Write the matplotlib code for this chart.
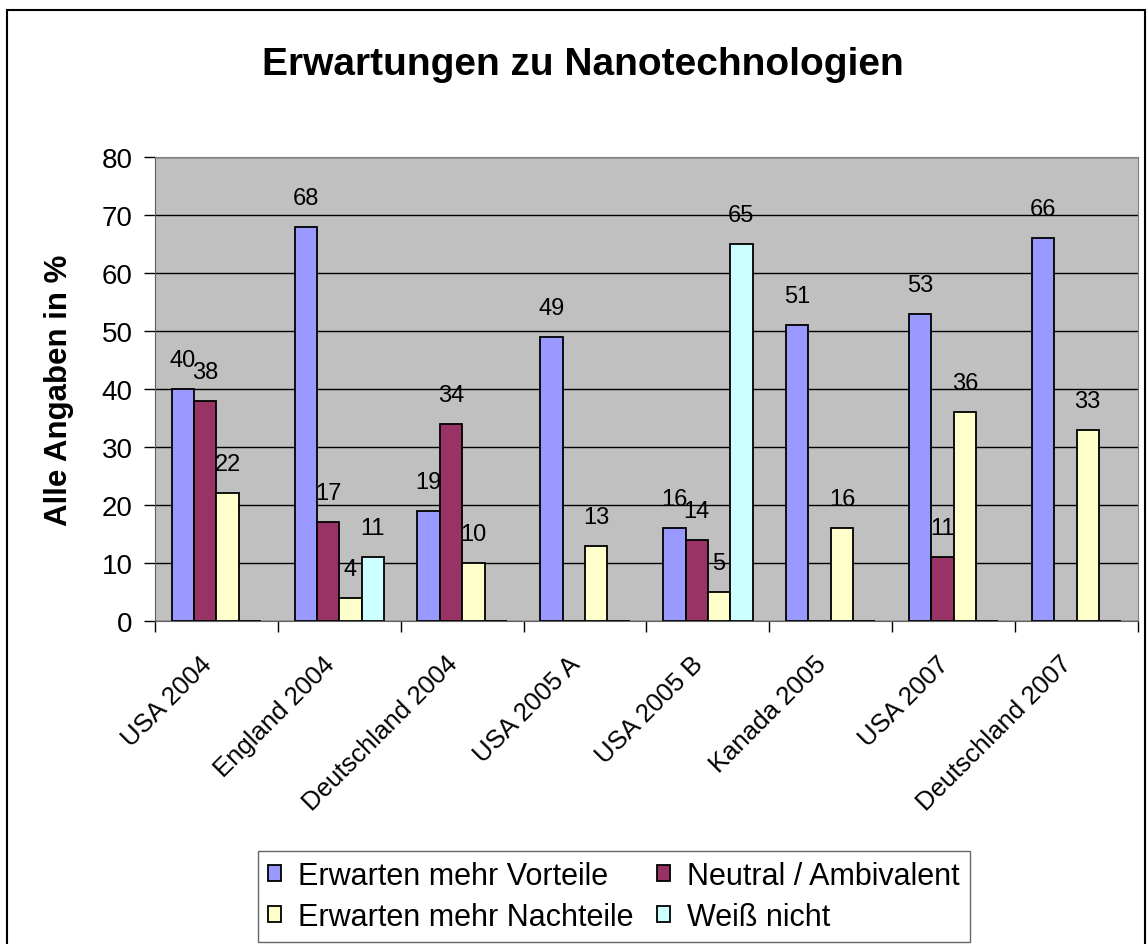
import numpy as np
import matplotlib.pyplot as plt
from matplotlib.patches import Rectangle

# Data (nan = no bar)
categories = ['USA 2004', 'England 2004', 'Deutschland 2004', 'USA 2005 A',
              'USA 2005 B', 'Kanada 2005', 'USA 2007', 'Deutschland 2007']
vorteile = [40, 68, 19, 49, 16, 51, 53, 66]
neutral = [38, 17, 34, np.nan, 14, np.nan, 11, np.nan]
nachteile = [22, 4, 10, 13, 5, 16, 36, 33]
weiss_nicht = [np.nan, 11, np.nan, np.nan, 65, np.nan, np.nan, np.nan]

series_names = ['Erwarten mehr Vorteile', 'Neutral / Ambivalent',
                'Erwarten mehr Nachteile', 'Weiß nicht']
series_values = [vorteile, neutral, nachteile, weiss_nicht]
colors = ['#9999FF', '#993366', '#FFFFCC', '#CCFFFF']

plt.rcParams['font.family'] = ['Liberation Sans', 'DejaVu Sans']

fig = plt.figure(figsize=(11.47, 9.45), dpi=100)
ax = fig.add_axes([0.1351, 0.3418, 0.857, 0.491])
ax.set_facecolor('#C0C0C0')

x = np.arange(len(categories))
bar_w = 0.182
handles = []
for i, (name, vals, col) in enumerate(zip(series_names, series_values, colors)):
    offs = (i - 1.5) * bar_w
    vals = np.array(vals, dtype=float)
    bars = ax.bar(x + offs, np.nan_to_num(vals), bar_w, color=col,
                  edgecolor='black', linewidth=1.3, label=name, zorder=3)
    handles.append(bars)
    for xi, v in zip(x, vals):
        if np.isnan(v):
            continue
        ax.annotate(f'{int(v)}', (xi + offs, v), xytext=(0, 13),
                    textcoords='offset points', ha='center', va='bottom',
                    fontsize=17, zorder=4)

ax.set_xlim(-0.5, len(categories) - 0.5)
ax.set_ylim(0, 80)
ax.set_yticks(np.arange(0, 81, 10))
ax.yaxis.grid(True, color='black', linewidth=1, zorder=0)
ax.set_axisbelow(True)
ax.tick_params(axis='y', labelsize=20, direction='out', length=8, width=1, pad=8)

# category ticks between groups, labels centered
ax.set_xticks(np.arange(-0.5, len(categories), 1))
ax.set_xticklabels([])
ax.set_xticks(x, minor=True)
ax.set_xticklabels(categories, minor=True, rotation=45, ha='right', va='bottom',
                   rotation_mode='anchor', fontsize=18.5)
ax.tick_params(axis='x', which='major', direction='out', length=8, width=1)
ax.tick_params(axis='x', which='minor', length=0, pad=34)

for side in ['top', 'right']:
    ax.spines[side].set_color('#808080')
ax.spines['left'].set_color('#606060')
ax.spines['bottom'].set_color('#606060')

ax.set_ylabel('Alle Angaben in %', fontsize=22.5, fontweight='bold', labelpad=20)

fig.text(0.508, 0.931, 'Erwartungen zu Nanotechnologien', ha='center',
         va='center', fontsize=28, fontweight='bold')

# legend filled row by row like the original
order = [0, 2, 1, 3]
leg = fig.legend(handles=[handles[k] for k in order],
                 labels=[series_names[k] for k in order], ncol=2,
                 loc='upper left', bbox_to_anchor=(0.2249, 0.0984),
                 fontsize=22, frameon=True, fancybox=False, edgecolor='#404040',
                 handlelength=0.45, handleheight=0.45, handletextpad=0.55,
                 columnspacing=0.75, labelspacing=0.36, borderpad=0.32,
                 borderaxespad=0)
leg.get_frame().set_linewidth(1)

# outer chart border
fig.patches.append(Rectangle((0.0061, -0.01), 0.992, 0.9984, transform=fig.transFigure,
                             fill=False, edgecolor='black', linewidth=1.5))

fig.savefig('out.png', dpi=100)
